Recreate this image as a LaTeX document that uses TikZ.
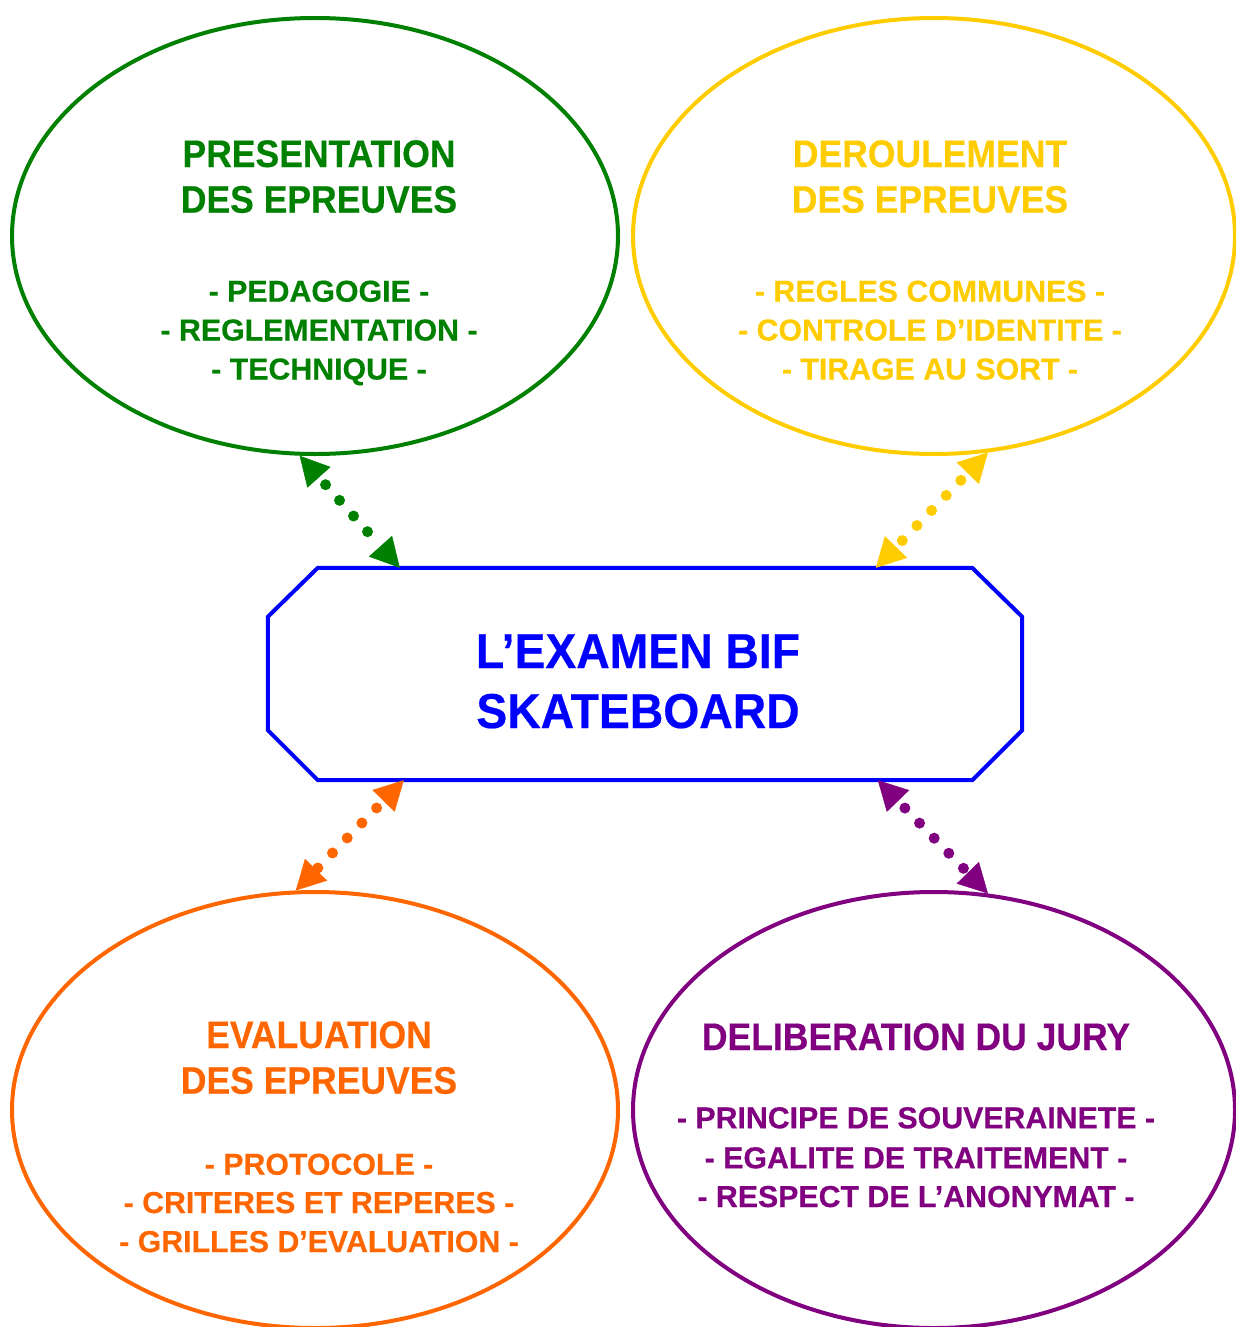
\documentclass[tikz,border=0pt]{standalone}
\usepackage{fontspec}
\setmainfont{Liberation Sans}
\newfontfamily\titlefam{Liberation Sans}[FakeStretch=0.925, FakeBold=0.4]
\newfontfamily\subfam{Liberation Sans}[FakeStretch=1.0, FakeBold=0.4]
\newfontfamily\midfam{Liberation Sans}[FakeStretch=0.945, FakeBold=0.4]
\usetikzlibrary{arrows.meta,shapes.geometric,calc}
\definecolor{cgreen}{RGB}{0,128,0}
\definecolor{cyellow}{RGB}{255,204,0}
\definecolor{cblue}{RGB}{0,0,255}
\definecolor{corange}{RGB}{255,102,0}
\definecolor{cpurple}{RGB}{128,0,128}
\tikzset{
  bubble/.style={ellipse, draw, line width=4pt, minimum width=606pt, minimum height=436pt, inner sep=0pt},
  ttl/.style={anchor=base, inner sep=0pt, font=\titlefam\bfseries\fontsize{38.4}{46}\selectfont},
  sub/.style={anchor=base, inner sep=0pt, font=\subfam\bfseries\fontsize{30.3}{39}\selectfont},
  mid/.style={anchor=base, inner sep=0pt, text=cblue, font=\midfam\bfseries\fontsize{49}{60}\selectfont},
  link/.style={line width=11pt, line cap=round, dash pattern=on 0pt off 21pt, dash phase=11pt,
    {Triangle[length=29pt,width=31pt,line width=0.5pt]}-{Triangle[length=29pt,width=31pt,line width=0.5pt]}}
}
\begin{document}
\begin{tikzpicture}[x=1pt,y=-1pt]
\useasboundingbox (0,0) rectangle (1235,1327);
% ellipses
\node[bubble, draw=cgreen] (pres) at (315,236) {};
\node[bubble, draw=cyellow, minimum width=602pt] (der) at (934,236) {};
\node[bubble, draw=corange] (eval) at (315,1110) {};
\node[bubble, draw=cpurple, minimum width=602pt] (delib) at (934,1110) {};
% central octagon
\node[minimum width=754pt, minimum height=212pt, inner sep=0pt] (exam) at (645,674) {};
\draw[cblue, line width=4pt, line join=miter]
  ($(exam.north west)+(50,0)$) -- ($(exam.north east)+(-50,0)$) -- ($(exam.north east)+(0,49)$)
  -- ($(exam.south east)+(0,-50)$) -- ($(exam.south east)+(-50,0)$) -- ($(exam.south west)+(50,0)$)
  -- ($(exam.south west)+(0,-50)$) -- ($(exam.north west)+(0,49)$) -- cycle;
\node[mid] (m1) at (638,668) {L’EXAMEN BIF};
\node[mid] (m2) at (638,728) {SKATEBOARD};
% texts: top left
\node[ttl, text=cgreen] (p1) at (319,167) {PRESENTATION};
\node[ttl, text=cgreen] (p2) at (319,212.7) {DES EPREUVES};
\node[sub, text=cgreen] (p3) at (319,301.7) {- PEDAGOGIE -};
\node[sub, text=cgreen] (p4) at (319,340.5) {- REGLEMENTATION -};
\node[sub, text=cgreen] (p5) at (319,379.5) {- TECHNIQUE -};
% top right
\node[ttl, text=cyellow] (d1) at (930,167) {DEROULEMENT};
\node[ttl, text=cyellow] (d2) at (930,212.7) {DES EPREUVES};
\node[sub, text=cyellow] (d3) at (930,301.7) {- REGLES COMMUNES -};
\node[sub, text=cyellow] (d4) at (930,340.5) {- CONTROLE D’IDENTITE -};
\node[sub, text=cyellow] (d5) at (930,379.5) {- TIRAGE AU SORT -};
% bottom left
\node[ttl, text=corange] (e1) at (319,1048) {EVALUATION};
\node[ttl, text=corange] (e2) at (319,1093.7) {DES EPREUVES};
\node[sub, text=corange] (e3) at (319,1174.7) {- PROTOCOLE -};
\node[sub, text=corange] (e4) at (319,1213) {- CRITERES ET REPERES -};
\node[sub, text=corange] (e5) at (319,1252) {- GRILLES D’EVALUATION -};
% bottom right
\node[ttl, text=cpurple] (j1) at (916,1050) {DELIBERATION DU JURY};
\node[sub, text=cpurple] (j2) at (916,1128.3) {- PRINCIPE DE SOUVERAINETE -};
\node[sub, text=cpurple] (j3) at (916,1168.3) {- EGALITE DE TRAITEMENT -};
\node[sub, text=cpurple] (j4) at (916,1207) {- RESPECT DE L’ANONYMAT -};
% connectors
\draw[link, cgreen] (pres.-94.7) -- ($(exam.north west)+(132,0)$);
\draw[link, cyellow] (der.-76.2) -- ($(exam.north west)+(608,0)$);
\draw[link, corange] ($(exam.south west)+(136,0)$) -- (eval.95);
\draw[link, cpurple] ($(exam.south west)+(610,0)$) -- (delib.76.5);
\end{tikzpicture}
\end{document}
